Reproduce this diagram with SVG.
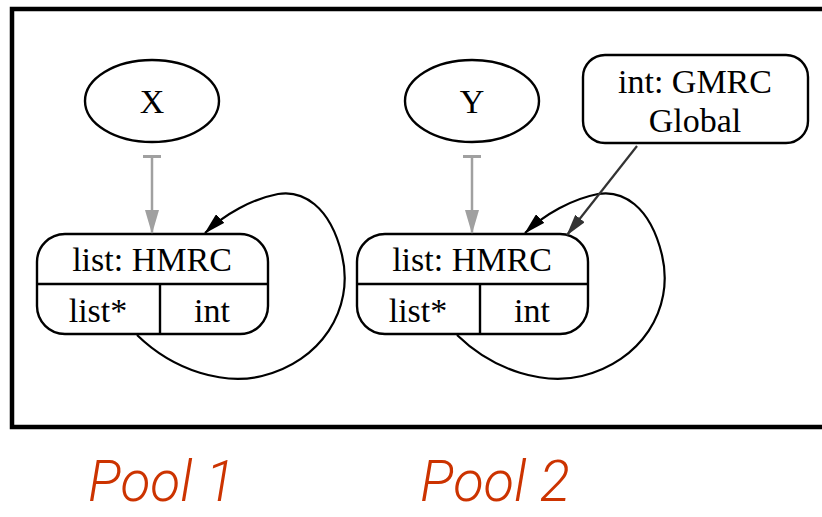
<svg xmlns="http://www.w3.org/2000/svg" width="822" height="517" viewBox="0 0 822 517">
  <style>
    .node { fill: none; stroke: #000; stroke-width: 2.4; }
    .lbl { font-family: "Liberation Serif", "Times New Roman", serif; font-size: 34px; fill: #000; text-anchor: middle; }
    .pool { font-family: Roboto, "Liberation Sans", sans-serif; font-weight: 300; font-style: italic; font-size: 57px; fill: #cc3300; }
    .edge { fill: none; stroke: #000; stroke-width: 2.2; }
    .grey { fill: none; stroke: #a0a0a0; stroke-width: 2.5; }
    .dark { fill: none; stroke: #333; stroke-width: 2.2; }
  </style>
  <defs>
    <marker id="ahBlack" markerWidth="22" markerHeight="12" refX="21" refY="6" orient="auto" markerUnits="userSpaceOnUse" viewBox="0 0 22 12">
      <path d="M0,0 L22,6 L0,12 z" fill="#000"/>
    </marker>
    <marker id="ahGrey" markerWidth="24" markerHeight="14" refX="23" refY="7" orient="auto" markerUnits="userSpaceOnUse" viewBox="0 0 24 14">
      <path d="M0,0 L24,7 L0,14 z" fill="#a0a0a0"/>
    </marker>
    <marker id="ahDark" markerWidth="22" markerHeight="12" refX="21" refY="6" orient="auto" markerUnits="userSpaceOnUse" viewBox="0 0 22 12">
      <path d="M0,0 L22,6 L0,12 z" fill="#333"/>
    </marker>
    <marker id="teeGrey" markerWidth="4" markerHeight="18" refX="2" refY="9" orient="auto" markerUnits="userSpaceOnUse" viewBox="0 0 4 18">
      <rect x="0" y="0" width="3" height="18" fill="#a0a0a0"/>
    </marker>
  </defs>

  <!-- outer frame -->
  <rect x="12" y="9" width="830" height="418" fill="#fff" stroke="#000" stroke-width="4.5"/>

  <!-- pool 1 -->
  <g id="nodeX">
    <ellipse class="node" cx="152" cy="101" rx="67" ry="41"/>
    <text class="lbl" x="152" y="113">X</text>
  </g>
  <g id="list1">
    <rect class="node" x="37" y="234" width="231" height="100" rx="28"/>
    <line class="node" x1="37" y1="284" x2="268" y2="284"/>
    <line class="node" x1="160" y1="284" x2="160" y2="334"/>
    <text class="lbl" x="152" y="271">list: HMRC</text>
    <text class="lbl" x="98" y="322">list*</text>
    <text class="lbl" x="212" y="322">int</text>
  </g>

  <!-- pool 2 -->
  <g id="nodeY">
    <ellipse class="node" cx="472" cy="101" rx="67" ry="41"/>
    <text class="lbl" x="472" y="113">Y</text>
  </g>
  <g id="list2">
    <rect class="node" x="357" y="234" width="231" height="100" rx="28"/>
    <line class="node" x1="357" y1="284" x2="588" y2="284"/>
    <line class="node" x1="480" y1="284" x2="480" y2="334"/>
    <text class="lbl" x="472" y="271">list: HMRC</text>
    <text class="lbl" x="418" y="322">list*</text>
    <text class="lbl" x="532" y="322">int</text>
  </g>
  <g id="gmrc">
    <rect class="node" x="583" y="55" width="225" height="88" rx="22"/>
    <text class="lbl" x="695" y="93">int: GMRC</text>
    <text class="lbl" x="695" y="132">Global</text>
  </g>

  <!-- connectors -->
  <g id="edges">
    <path class="grey" d="M152,157 L152,233" marker-start="url(#teeGrey)" marker-end="url(#ahGrey)"/>
    <path class="grey" d="M472,157 L472,233" marker-start="url(#teeGrey)" marker-end="url(#ahGrey)"/>
    <path class="edge" d="M137,335 C175,372 225,385 262,376 C320,362 355,310 342,255 C330,205 302,190 278,194 C252,199 225,214 205,233" marker-end="url(#ahBlack)"/>
    <path class="edge" d="M457,335 C495,372 545,385 582,376 C640,362 675,310 662,255 C650,205 622,190 598,194 C572,199 545,214 525,233" marker-end="url(#ahBlack)"/>
    <path class="dark" d="M637,146 L567,235" marker-end="url(#ahDark)"/>
  </g>

  <!-- pool captions -->
  <text class="pool" x="88" y="501" textLength="147" lengthAdjust="spacingAndGlyphs">Pool 1</text>
  <text class="pool" x="420" y="501" textLength="150" lengthAdjust="spacingAndGlyphs">Pool 2</text>
</svg>
